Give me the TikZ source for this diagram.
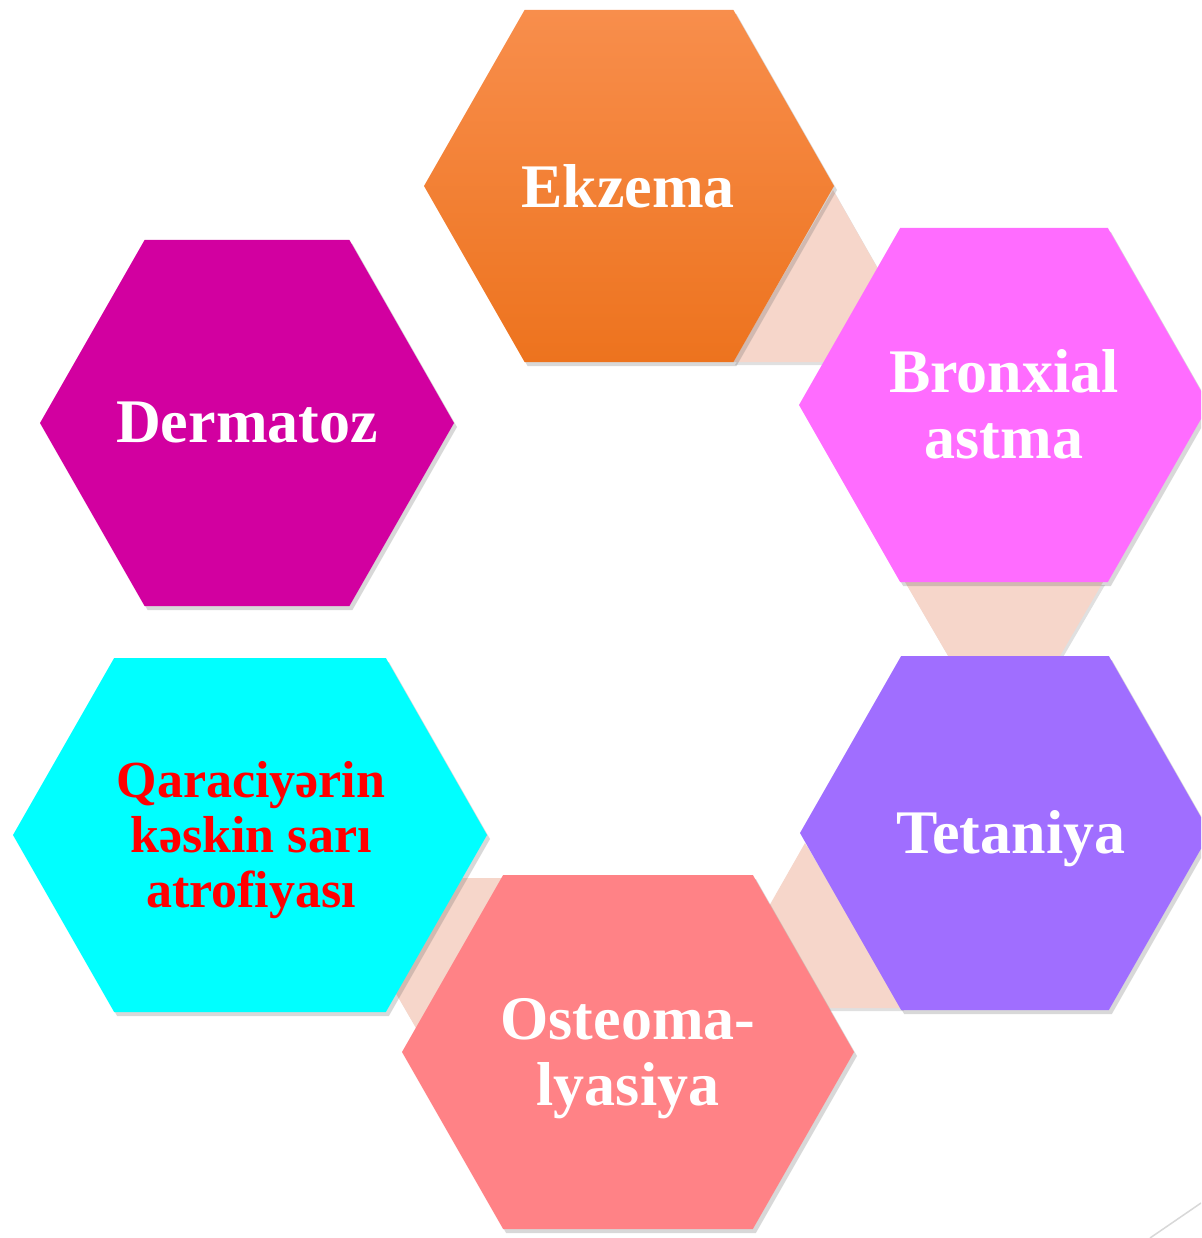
\documentclass[tikz,border=0pt]{standalone}
\usepackage{fontspec}
\setmainfont{Liberation Serif}
\usetikzlibrary{shadows}

\definecolor{ekzematop}{RGB}{248,142,76}
\definecolor{ekzemabot}{RGB}{237,115,30}
\definecolor{dermatoz}{RGB}{210,0,160}
\definecolor{bronxial}{RGB}{255,108,255}
\definecolor{tetaniya}{RGB}{160,110,255}
\definecolor{osteoma}{RGB}{255,130,134}
\definecolor{qaraciyer}{RGB}{0,255,255}
\definecolor{linkfill}{RGB}{246,214,202}
\definecolor{slideline}{RGB}{216,216,216}

\tikzset{
  hexshape/.style={drop shadow={shadow xshift=3pt, shadow yshift=-4pt, fill=black!60, opacity=0.25}},
  linkshape/.style={fill=linkfill, drop shadow={shadow xshift=2pt, shadow yshift=-3pt, fill=black!60, opacity=0.2}},
  hextext/.style={text=white, font=\bfseries\fontsize{62}{66}\selectfont, align=center, inner sep=0pt},
}

% hexagon: centre x, centre y, half width, half height, fill
\newcommand{\hexcell}[5]{%
  \path[hexshape,#5] (#1-#3,#2) -- (#1-#3+#4/1.75,#2-#4) -- (#1+#3-#4/1.75,#2-#4)
    -- (#1+#3,#2) -- (#1+#3-#4/1.75,#2+#4) -- (#1-#3+#4/1.75,#2+#4) -- cycle;}

\begin{document}
\begin{tikzpicture}[x=1pt, y=-1pt]
	\clip (0,0) rectangle (1201,1238);
	\fill[white] (0,0) rectangle (1201,1238);
	\draw[slideline, line width=1.5pt] (1150,1238) -- (1201,1203);

	% links behind the ring
	\path[linkshape] (833,190) -- (733,362) -- (931,362) -- cycle;
	\path[linkshape] (905,582) -- (1103,582) -- (1004,752) -- cycle;
	\path[linkshape] (805,843) -- (711,1008) -- (902,1008) -- cycle;
	\path[linkshape] (329,878) -- (502,878) -- (416,1028) -- cycle;

	\hexcell{629}{186}{205}{176}{top color=ekzematop, bottom color=ekzemabot}
	\hexcell{1004}{405}{205}{177}{fill=bronxial}
	\hexcell{1005}{833}{205}{177}{fill=tetaniya}
	\hexcell{628}{1052}{226}{177}{fill=osteoma}
	\hexcell{250}{835}{237}{177}{fill=qaraciyer}
	\hexcell{247}{423}{207}{183}{fill=dermatoz}

	\node[hextext, anchor=base] (ekzema) at (628,208) {Ekzema};
	\node[hextext] (bronxial) at (1004,404) {Bronxial\\astma};
	\node[hextext, anchor=base] (tetaniya) at (1011,853) {Tetaniya};
	\node[hextext] (osteoma) at (628,1059) {Osteoma-\\lyasiya};
	\node[hextext, text=red, font=\bfseries\fontsize{52}{55}\selectfont] (qaraciyer) at (251,840) {Qaraciyərin\\kəskin sarı\\atrofiyası};
	\node[hextext, anchor=base] (dermatoz) at (247,442) {Dermatoz};
\end{tikzpicture}
\end{document}
